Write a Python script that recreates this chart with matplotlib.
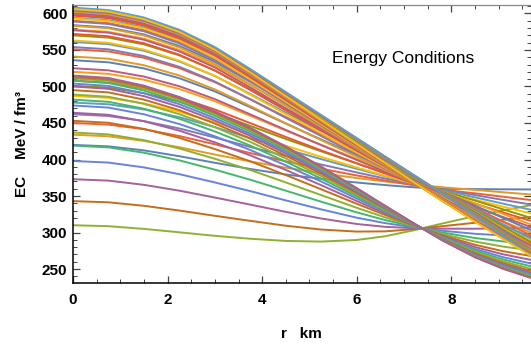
import matplotlib
matplotlib.use("Agg")
import matplotlib.pyplot as plt
from matplotlib.ticker import MultipleLocator

plt.rcParams['font.family'] = ['Liberation Sans', 'DejaVu Sans']

r_km = [0, 0.75, 1.5, 2.25, 3, 3.75, 4.5, 5.25, 6, 6.6, 7.2, 7.8, 8.5, 9.1, 9.7]

# upper fan, first curve of each triple
upper_a = [
    [420, 418, 412.5, 404.5, 395.5, 387, 379.5, 373.5, 368.5, 365, 362, 359.8, 359.5, 359.2, 359],
    [450, 447.8, 441.5, 432.1, 420.8, 408.8, 397.5, 387.4, 378.2, 371.3, 364.7, 358.8, 353.7, 349, 344.4],
    [478, 475.6, 468.6, 457.9, 444.4, 429.2, 414.3, 400.5, 387.3, 377.1, 367.2, 357.9, 348.2, 339.5, 330.9],
    [501, 498.4, 490.9, 479.1, 463.8, 446, 428.1, 411.2, 394.7, 381.9, 369.3, 357.2, 343.8, 331.7, 319.7],
    [520, 517.3, 509.3, 496.6, 479.8, 459.8, 439.6, 420, 400.9, 385.9, 371, 356.6, 340.1, 325.3, 310.5],
    [536, 533.1, 524.8, 511.3, 493.3, 471.5, 449.2, 427.4, 406.1, 389.2, 372.5, 356.1, 337, 319.8, 302.7],
    [551, 548, 539.3, 525.1, 505.9, 482.4, 458.2, 434.4, 410.9, 392.3, 373.8, 355.6, 334.1, 314.7, 295.5],
    [561, 558, 549, 534.3, 514.4, 489.7, 464.2, 439.1, 414.2, 394.4, 374.8, 355.3, 332.1, 311.3, 290.6],
    [570, 566.9, 557.7, 542.6, 522, 496.2, 469.6, 443.2, 417.1, 396.3, 375.6, 355, 330.4, 308.3, 286.2],
    [578, 574.8, 565.5, 550, 528.7, 502.1, 474.4, 447, 419.7, 397.9, 376.3, 354.8, 328.8, 305.6, 282.4],
    [584, 580.8, 571.3, 555.5, 533.8, 506.4, 478, 449.7, 421.6, 399.2, 376.8, 354.6, 327.7, 303.5, 279.4],
    [590, 586.7, 577.1, 561, 538.8, 510.8, 481.6, 452.5, 423.6, 400.4, 377.4, 354.4, 326.5, 301.5, 276.5],
    [594, 590.7, 580.9, 564.7, 542.2, 513.7, 484, 454.4, 424.9, 401.3, 377.7, 354.2, 325.7, 300.2, 274.6],
    [598, 594.7, 584.8, 568.4, 545.6, 516.6, 486.4, 456.3, 426.2, 402.1, 378.1, 354.1, 324.9, 298.8, 272.7],
    [601.5, 598.1, 588.2, 571.6, 548.5, 519.2, 488.5, 457.9, 427.3, 402.8, 378.4, 354, 324.3, 297.6, 271],
    [604, 600.6, 590.6, 573.9, 550.6, 521, 490, 459, 428.1, 403.4, 378.6, 353.9, 323.8, 296.8, 269.7],
    [606, 602.6, 592.6, 575.8, 552.3, 522.4, 491.2, 460, 428.8, 403.8, 378.8, 353.9, 323.4, 296.1, 268.8],
    [608, 604.6, 594.5, 577.6, 554, 523.8, 492.4, 460.9, 429.4, 404.2, 379, 353.8, 323, 295.4, 267.8],
]

# upper fan, second curve of each triple
upper_b = [
    [434, 431.8, 425.5, 416.8, 406.8, 397.4, 388.8, 381.2, 374.7, 369.9, 366, 362.1, 358.4, 355.1, 352],
    [462, 459.6, 452.6, 442.5, 430.1, 417.2, 404.7, 393.1, 382.3, 374, 366.5, 359.1, 351.3, 344.6, 338.2],
    [487, 484.4, 476.8, 465.4, 451, 434.9, 418.9, 403.6, 389.1, 377.7, 367, 356.4, 345, 335.3, 325.9],
    [508, 505.2, 497.2, 484.7, 468.5, 449.8, 430.9, 412.5, 394.8, 380.8, 367.4, 354.1, 339.6, 327.4, 315.6],
    [525, 522.1, 513.6, 500.3, 482.7, 461.8, 440.5, 419.7, 399.4, 383.3, 367.7, 352.3, 335.3, 321.1, 307.2],
    [541, 538, 529.1, 515, 496, 473.2, 449.6, 426.5, 403.8, 385.7, 368, 350.5, 331.3, 315.1, 299.4],
    [554, 550.9, 541.7, 526.9, 506.8, 482.4, 457, 432, 407.3, 387.6, 368.2, 349.1, 328, 310.2, 293],
    [563, 559.8, 550.5, 535.2, 514.4, 488.8, 462.2, 435.8, 409.7, 389, 368.4, 348.1, 325.7, 306.9, 288.5],
    [572, 568.8, 559.2, 543.4, 521.8, 495.1, 467.3, 439.6, 412.2, 390.3, 368.6, 347.2, 323.4, 303.5, 284.1],
    [577, 573.7, 564, 548, 526, 498.7, 470.1, 441.7, 413.5, 391, 368.7, 346.6, 322.2, 301.6, 281.7],
    [583, 579.7, 569.8, 553.5, 531, 502.9, 473.5, 444.3, 415.2, 391.9, 368.8, 346, 320.6, 299.4, 278.7],
    [589, 585.6, 575.6, 559, 536, 507.2, 476.9, 446.8, 416.8, 392.8, 368.9, 345.3, 319.1, 297.2, 275.8],
    [593, 589.6, 579.5, 562.7, 539.4, 510, 479.2, 448.5, 417.9, 393.4, 369, 344.9, 318.1, 295.7, 273.8],
    [597, 593.6, 583.4, 566.3, 542.7, 512.8, 481.5, 450.2, 419, 394, 369, 344.5, 317.1, 294.2, 271.8],
    [600, 596.5, 586.3, 569.1, 545.2, 515, 483.2, 451.5, 419.8, 394.4, 369.1, 344.1, 316.3, 293, 270.4],
    [602.5, 599, 588.7, 571.4, 547.3, 516.7, 484.6, 452.5, 420.5, 394.8, 369.1, 343.9, 315.7, 292.1, 269.1],
    [604, 600.5, 590.2, 572.8, 548.5, 517.8, 485.5, 453.2, 420.9, 395, 369.2, 343.7, 315.3, 291.5, 268.4],
    [606, 602.5, 592.1, 574.6, 550.2, 519.2, 486.6, 454, 421.4, 395.3, 369.2, 343.5, 314.8, 290.8, 267.4],
]

# lower fan, third curve of each triple (all meet near r = 7.4 km)
lower_c = [
    [310, 308.7, 305, 300.3, 295.5, 291.5, 288.5, 287.6, 289.8, 294.9, 303, 312.2, 322.5, 330.5, 337.6],
    [343, 341.4, 336.6, 330.1, 322.9, 316, 309.3, 304.1, 301.3, 301.6, 304.6, 308.6, 313.4, 317.6, 321.5],
    [373, 371.1, 365.3, 357.3, 347.9, 338.2, 328.3, 319.2, 311.7, 307.8, 306, 305.3, 305.2, 305.8, 306.8],
    [398, 395.8, 389.2, 379.9, 368.6, 356.7, 344, 331.7, 320.3, 312.9, 307.2, 302.5, 298.3, 296, 294.6],
    [419, 416.6, 409.3, 398.8, 386.1, 372.3, 357.3, 342.2, 327.6, 317.1, 308.2, 300.2, 292.5, 287.8, 284.3],
    [437, 434.4, 426.5, 415.1, 401, 385.6, 368.6, 351.2, 333.9, 320.8, 309.1, 298.2, 287.6, 280.7, 275.5],
    [453, 450.3, 441.9, 429.6, 414.3, 397.5, 378.7, 359.2, 339.4, 324.1, 309.9, 296.5, 283.2, 274.4, 267.7],
    [464, 461.2, 452.4, 439.5, 423.5, 405.6, 385.7, 364.8, 343.2, 326.3, 310.4, 295.3, 280.1, 270.1, 262.3],
    [474, 471.1, 461.9, 448.6, 431.8, 413, 392, 369.8, 346.7, 328.4, 310.9, 294.2, 277.4, 266.2, 257.4],
    [482, 479, 469.6, 455.8, 438.4, 419, 397, 373.8, 349.5, 330, 311.3, 293.3, 275.2, 263.1, 253.5],
    [489, 485.9, 476.3, 462.1, 444.2, 424.1, 401.4, 377.3, 351.9, 331.4, 311.6, 292.5, 273.3, 260.3, 250.1],
    [495, 491.9, 482, 467.5, 449.2, 428.6, 405.2, 380.3, 354, 332.6, 311.9, 291.8, 271.6, 258, 247.1],
    [500, 496.8, 486.8, 472.1, 453.4, 432.3, 408.4, 382.8, 355.7, 333.7, 312.1, 291.3, 270.2, 256, 244.7],
    [504, 500.8, 490.7, 475.7, 456.7, 435.3, 410.9, 384.8, 357.1, 334.5, 312.3, 290.9, 269.1, 254.5, 242.7],
    [508, 504.7, 494.5, 479.3, 460, 438.2, 413.4, 386.8, 358.5, 335.3, 312.5, 290.4, 268, 252.9, 240.8],
    [511, 507.7, 497.4, 482, 462.5, 440.4, 415.3, 388.3, 359.5, 335.9, 312.6, 290.1, 267.2, 251.7, 239.3],
    [513, 509.7, 499.3, 483.8, 464.2, 441.9, 416.6, 389.3, 360.2, 336.3, 312.7, 289.9, 266.7, 250.9, 238.3],
    [515, 511.7, 501.2, 485.6, 465.9, 443.4, 417.9, 390.3, 360.9, 336.7, 312.8, 289.6, 266.1, 250.1, 237.4],
]

# Mathematica default plot colours
palette = ['#5E81B5', '#E19C24', '#8FB032', '#EB6235', '#8778B3',
           '#C56E1A', '#5D9EC7', '#FFBF00', '#A5609D', '#929600',
           '#E95536', '#6685D9', '#F89F13', '#BC5B80', '#47B66D']

fig = plt.figure(figsize=(5.31, 3.48), dpi=100)
ax = fig.add_axes([0.1375, 0.187, 0.862, 0.7995])

i = 0
for a, b, c in zip(upper_a, upper_b, lower_c):
    for ys in (a, b, c):
        ax.plot(r_km, ys, color=palette[i % 15], lw=1.4, solid_joinstyle='round')
        i += 1

ax.set_xlim(0, 9.68)
ax.set_ylim(231, 612)
ax.xaxis.set_major_locator(MultipleLocator(2))
ax.xaxis.set_minor_locator(MultipleLocator(0.5))
ax.yaxis.set_major_locator(MultipleLocator(50))
ax.yaxis.set_minor_locator(MultipleLocator(10))

ax.tick_params(which='both', direction='in', top=True, right=True,
               labeltop=False, labelright=False, color='#444444')
ax.tick_params(which='major', length=5, width=0.9, pad=7)
ax.tick_params(which='minor', length=3, width=0.7)
for lab in ax.get_xticklabels() + ax.get_yticklabels():
    lab.set_fontweight('bold')
    lab.set_fontsize(11)
ax.tick_params(axis='y', pad=4)

for s in ('left', 'bottom'):
    ax.spines[s].set_color('black')
    ax.spines[s].set_linewidth(1.1)
for s in ('top', 'right'):
    ax.spines[s].set_color('#888888')
    ax.spines[s].set_linewidth(0.9)

ax.set_xlabel('r   km', fontsize=11, fontweight='bold', labelpad=15)
ax.set_ylabel('EC    MeV / fm³', fontsize=11, fontweight='bold', labelpad=9)

ax.text(0.722, 0.805, 'Energy Conditions', transform=ax.transAxes,
        ha='center', va='center', fontsize=12.5)

fig.savefig('out.png', dpi=100)
